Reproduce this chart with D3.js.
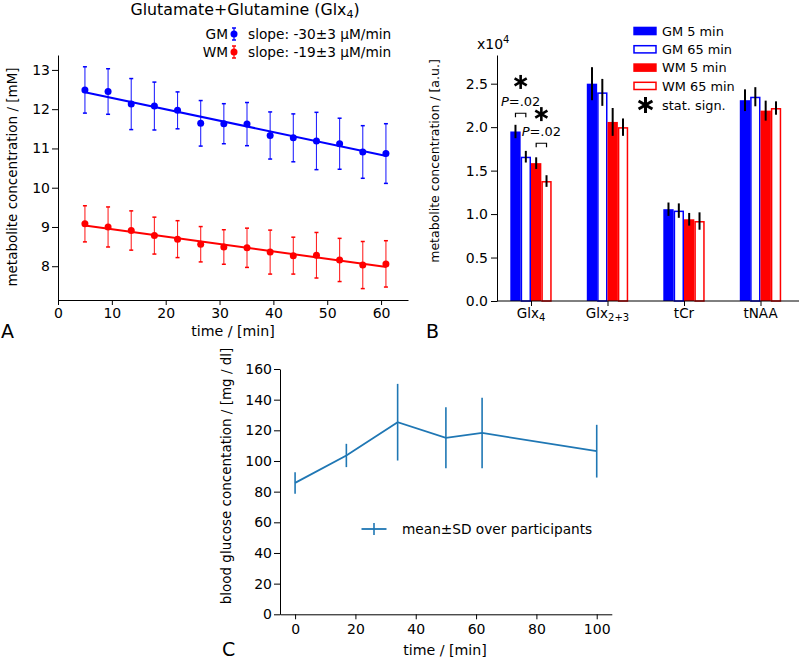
<!DOCTYPE html>
<html><head><meta charset="utf-8">
<script src="https://cdn.jsdelivr.net/npm/d3@7"></script>
<style>body{margin:0;background:#fff}svg{display:block}text{font-family:"DejaVu Sans",Verdana,sans-serif;font-weight:normal;fill:#000}</style>
</head><body>
<svg id="chart" width="800" height="659"></svg>
<script>
// ---------- Panel A data ----------
const timesA = [5.0, 9.3, 13.6, 17.9, 22.2, 26.5, 30.8, 35.1, 39.4, 43.7, 48.0, 52.3, 56.6, 60.9];
const gmMean = [12.49, 12.45, 12.13, 12.08, 11.97, 11.64, 11.63, 11.62, 11.33, 11.27, 11.19, 11.12, 10.91, 10.87];
const gmSD   = [0.59, 0.58, 0.65, 0.61, 0.47, 0.58, 0.51, 0.55, 0.60, 0.61, 0.73, 0.65, 0.67, 0.76];
const wmMean = [9.08, 9.00, 8.91, 8.78, 8.69, 8.56, 8.49, 8.47, 8.36, 8.27, 8.28, 8.16, 8.03, 8.06];
const wmSD   = [0.46, 0.51, 0.50, 0.47, 0.47, 0.45, 0.44, 0.50, 0.56, 0.47, 0.58, 0.55, 0.60, 0.59];
const fitTimes = [5, 61];
const gmFit = [12.43, 10.81];
const wmFit = [9.04, 7.98];
const legendA = ["GM", "WM"];
const slopeLabels = ["slope: -30\u00b13 \u03bcM/min", "slope: -19\u00b13 \u03bcM/min"];
const ticksAx = [0, 10, 20, 30, 40, 50, 60];
const ticksAy = [8, 9, 10, 11, 12, 13];

// ---------- Panel B data (x10^4 a.u.) ----------
const metabolites = ["Glx4", "Glx2+3", "tCr", "tNAA"];
const metBase = ["Glx", "Glx", "tCr", "tNAA"];
const metSub  = ["4", "2+3", "", ""];
const seriesB = ["GM 5 min", "GM 65 min", "WM 5 min", "WM 65 min"];
const gm5   = [1.95, 2.50, 1.056, 2.31];
const gm5E  = [0.077, 0.19, 0.077, 0.125];
const gm65  = [1.66, 2.40, 1.04, 2.35];
const gm65E = [0.067, 0.155, 0.083, 0.11];
const wm5   = [1.586, 2.06, 0.94, 2.19];
const wm5E  = [0.067, 0.16, 0.073, 0.115];
const wm65  = [1.38, 2.00, 0.92, 2.22];
const wm65E = [0.067, 0.10, 0.10, 0.077];
const ticksBy = [0, 0.5, 1.0, 1.5, 2.0, 2.5];
// significance annotations on Glx4: series pair, asterisk y, P text y, bracket y
const sigPairs = [[0, 1], [2, 3]];
const sigStarY = [2.52, 2.15];
const sigTextY = [2.30, 1.96];
const sigBracketY = [2.16, 1.815];
const sigText = ["P=.02", "P=.02"];

// ---------- Panel C data ----------
const glucoseTimes = [0, 17, 34, 50, 62, 100];
const glucoseMean  = [85.7, 103.6, 125.3, 115.1, 118.3, 106.4];
const glucoseSD    = [7.0, 7.6, 25.0, 19.9, 23.0, 17.2];
const ticksCx = [0, 20, 40, 60, 80, 100];
const ticksCy = [0, 20, 40, 60, 80, 100, 120, 140, 160];

const svg = d3.select("#chart");
const BLUE = "#0000ff", RED = "#ff0000", C1 = "#1f77b4";

function styleAxis(g, fs) {
  g.attr("font-size", null).attr("font-family", null);
  g.selectAll("path.domain").attr("stroke", "#000").attr("stroke-width", 1);
  g.selectAll(".tick line").attr("stroke", "#000");
  g.selectAll(".tick text").style("font-size", fs + "px").attr("fill", "#000");
}

// ================= Panel A =================
{
  const x = d3.scaleLinear().domain([0, 65]).range([58, 408]);
  const y = d3.scaleLinear().domain([7.14, 13.38]).range([300, 55]);
  const g = svg.append("g");
  g.append("g").attr("transform", "translate(0,300)")
    .call(d3.axisBottom(x).tickValues(ticksAx).tickFormat(d3.format("d")).tickSize(5).tickPadding(3).tickSizeOuter(0))
    .call(a => styleAxis(a, 14));
  g.append("g").attr("transform", "translate(58,0)")
    .call(d3.axisLeft(y).tickValues(ticksAy).tickFormat(d3.format("d")).tickSize(6).tickPadding(2).tickSizeOuter(0))
    .call(a => styleAxis(a, 14));

  const sets = [[gmMean, gmSD, gmFit, BLUE], [wmMean, wmSD, wmFit, RED]];
  sets.forEach(([m, sd, fit, col]) => {
    const pts = timesA.map((t, i) => ({t, m: m[i], s: sd[i]}));
    const eb = g.append("g").attr("stroke", col).attr("stroke-width", 1.1);
    eb.selectAll("line.v").data(pts).join("line")
      .attr("x1", d => x(d.t)).attr("x2", d => x(d.t))
      .attr("y1", d => y(d.m - d.s)).attr("y2", d => y(d.m + d.s)).attr("stroke-opacity", 0.85);
    eb.selectAll("line.ct").data(pts).join("line")
      .attr("x1", d => x(d.t) - 2).attr("x2", d => x(d.t) + 2)
      .attr("y1", d => y(d.m + d.s)).attr("y2", d => y(d.m + d.s)).attr("stroke-width", 1.5);
    eb.selectAll("line.cb").data(pts).join("line")
      .attr("x1", d => x(d.t) - 2).attr("x2", d => x(d.t) + 2)
      .attr("y1", d => y(d.m - d.s)).attr("y2", d => y(d.m - d.s)).attr("stroke-width", 1.5);
    g.append("path").datum(fitTimes.map((t, i) => [t, fit[i]]))
      .attr("fill", "none").attr("stroke", col).attr("stroke-width", 2)
      .attr("d", d3.line().x(d => x(d[0])).y(d => y(d[1])));
    g.append("g").selectAll("circle").data(pts).join("circle")
      .attr("cx", d => x(d.t)).attr("cy", d => y(d.m)).attr("r", 3.5).attr("fill", col);
  });

  // title
  const tt = g.append("text").attr("x", 245).attr("y", 14.5).attr("text-anchor", "middle").style("font-size", "15.8px");
  tt.append("tspan").text("Glutamate+Glutamine (Glx");
  tt.append("tspan").text("4").style("font-size", "11px").attr("dy", 3);
  tt.append("tspan").text(")").attr("dy", -3);

  // legend
  const cols = [BLUE, RED];
  legendA.forEach((lab, i) => {
    const cy = 34 + i * 18;
    g.append("text").attr("x", 228).attr("y", cy + 5).attr("text-anchor", "end").style("font-size", "13.7px").text(lab);
    const lg = g.append("g").attr("stroke", cols[i]);
    lg.append("line").attr("x1", 234).attr("x2", 234).attr("y1", cy - 6).attr("y2", cy + 6).attr("stroke-width", 1.2);
    lg.append("line").attr("x1", 232).attr("x2", 236).attr("y1", cy - 6).attr("y2", cy - 6).attr("stroke-width", 1.5);
    lg.append("line").attr("x1", 232).attr("x2", 236).attr("y1", cy + 6).attr("y2", cy + 6).attr("stroke-width", 1.5);
    g.append("circle").attr("cx", 234).attr("cy", cy).attr("r", 3.5).attr("fill", cols[i]);
    g.append("text").attr("x", 248).attr("y", cy + 5).style("font-size", "13.7px").text(slopeLabels[i]);
  });

  g.append("text").attr("transform", "translate(17,177) rotate(-90)").attr("text-anchor", "middle")
    .style("font-size", "13.5px").text("metabolite concentration / [mM]");
  g.append("text").attr("x", 233).attr("y", 336).attr("text-anchor", "middle").style("font-size", "14.2px").text("time / [min]");
  g.append("text").attr("x", 1).attr("y", 338).style("font-size", "19px").text("A");
}

// ================= Panel B =================
{
  const x = d3.scalePoint().domain(metabolites).range([531, 760.5]);
  const sub = d3.scaleBand().domain(seriesB).range([-20.7, 20.7]).padding(0);
  const y = d3.scaleLinear().domain([0, 2.83]).range([301, 55]);
  const g = svg.append("g");

  const vals = [gm5, gm65, wm5, wm65];
  const errs = [gm5E, gm65E, wm5E, wm65E];
  const cols = [BLUE, BLUE, RED, RED];
  const filled = [true, false, true, false];
  seriesB.forEach((s, si) => {
    const data = metabolites.map((m, i) => ({m, v: vals[si][i], e: errs[si][i]}));
    g.append("g").selectAll("rect").data(data).join("rect")
      .attr("x", d => x(d.m) + sub(s) + (filled[si] ? 0 : 0.75))
      .attr("width", sub.bandwidth() - (filled[si] ? 0 : 1.5))
      .attr("y", d => y(d.v) + (filled[si] ? 0 : 0.75))
      .attr("height", d => y(0) - y(d.v) - (filled[si] ? 0 : 0.75))
      .attr("fill", filled[si] ? cols[si] : "#fff")
      .attr("stroke", filled[si] ? "none" : cols[si]).attr("stroke-width", 1.5);
  });
  seriesB.forEach((s, si) => {
    const data = metabolites.map((m, i) => ({m, v: vals[si][i], e: errs[si][i]}));
    g.append("g").selectAll("line").data(data).join("line")
      .attr("x1", d => x(d.m) + sub(s) + sub.bandwidth() / 2).attr("x2", d => x(d.m) + sub(s) + sub.bandwidth() / 2)
      .attr("y1", d => y(d.v - d.e)).attr("y2", d => y(d.v + d.e))
      .attr("stroke", "#000").attr("stroke-width", 2);
  });

  // axes
  g.append("g").attr("transform", "translate(497,0)")
    .call(d3.axisLeft(y).tickValues(ticksBy).tickFormat(d3.format(".1f")).tickSize(6).tickPadding(3).tickSizeOuter(0))
    .call(a => styleAxis(a, 14));
  g.append("line").attr("x1", 497).attr("x2", 799).attr("y1", 301).attr("y2", 301).attr("stroke", "#000");
  const xa = g.append("g").attr("transform", "translate(0,301)")
    .call(d3.axisBottom(x).tickSize(5).tickPadding(4).tickFormat(""));
  xa.select("path.domain").remove();
  xa.selectAll(".tick line").attr("stroke", "#000");
  metabolites.forEach((m, i) => {
    const t = g.append("text").attr("x", x(m)).attr("y", 318).attr("text-anchor", "middle").style("font-size", "13.5px");
    t.append("tspan").text(metBase[i]);
    if (metSub[i]) t.append("tspan").text(metSub[i]).style("font-size", "10px").attr("dy", 3);
  });
  const xl = g.append("text").attr("x", 477).attr("y", 49).style("font-size", "14px");
  xl.append("tspan").text("x10");
  xl.append("tspan").text("4").style("font-size", "10px").attr("dy", -6);

  function star(cx, cy, r, sw) {
    const sg = g.append("g").attr("stroke", "#000").attr("stroke-width", sw).attr("stroke-linecap", "butt");
    [90, 30, -30].forEach(a => {
      const rad = a * Math.PI / 180;
      sg.append("line").attr("x1", cx - r * Math.cos(rad)).attr("y1", cy - r * Math.sin(rad))
        .attr("x2", cx + r * Math.cos(rad)).attr("y2", cy + r * Math.sin(rad));
    });
  }
  sigPairs.forEach((pr, k) => {
    const xa1 = x(metabolites[0]) + sub(seriesB[pr[0]]) + sub.bandwidth() / 2;
    const xa2 = x(metabolites[0]) + sub(seriesB[pr[1]]) + sub.bandwidth() / 2;
    const mid = (xa1 + xa2) / 2;
    star(mid, y(sigStarY[k]), 7, 2.6);
    const yb = y(sigBracketY[k]);
    g.append("path").attr("d", `M${xa1},${yb + 4}V${yb}H${xa2}V${yb + 4}`)
      .attr("fill", "none").attr("stroke", "#000").attr("stroke-width", 1.2);
    const t = g.append("text").attr("x", mid).attr("y", y(sigTextY[k]) + 5).attr("text-anchor", "middle").style("font-size", "13px");
    t.append("tspan").text("P").attr("font-style", "italic");
    t.append("tspan").text(sigText[k].slice(1));
  });

  // legend
  seriesB.forEach((s, i) => {
    const cy = 31 + i * 18.3;
    g.append("rect").attr("x", filled[i] ? 633.3 : 634).attr("y", cy - (filled[i] ? 4.3 : 3.6))
      .attr("width", filled[i] ? 23.4 : 22).attr("height", filled[i] ? 8.6 : 7.2)
      .attr("fill", filled[i] ? cols[i] : "#fff").attr("stroke", filled[i] ? "none" : cols[i]).attr("stroke-width", 1.5);
    g.append("text").attr("x", 662).attr("y", cy + 4.8).style("font-size", "12.9px").text(s);
  });
  star(645.5, 105, 8, 3);
  g.append("text").attr("x", 662).attr("y", 109.8).style("font-size", "12.9px").text("stat. sign.");

  g.append("text").attr("transform", "translate(439,161) rotate(-90)").attr("text-anchor", "middle")
    .style("font-size", "12.5px").text("metabolite concentration / [a.u.]");
  g.append("text").attr("x", 426).attr("y", 338).style("font-size", "19px").text("B");
}

// ================= Panel C =================
{
  const x = d3.scaleLinear().domain([-5, 105]).range([280, 611.8]);
  const y = d3.scaleLinear().domain([0, 160]).range([614.3, 369]);
  const g = svg.append("g");
  g.append("g").attr("transform", "translate(0,614.3)")
    .call(d3.axisBottom(x).tickValues(ticksCx).tickSize(5).tickPadding(5).tickSizeOuter(0))
    .call(a => styleAxis(a, 14));
  g.append("g").attr("transform", "translate(280,0)")
    .call(d3.axisLeft(y).tickValues(ticksCy).tickSize(6).tickPadding(2).tickSizeOuter(0))
    .call(a => styleAxis(a, 14));

  const pts = glucoseTimes.map((t, i) => ({t, m: glucoseMean[i], s: glucoseSD[i]}));
  g.append("path").datum(pts).attr("fill", "none").attr("stroke", C1).attr("stroke-width", 1.8)
    .attr("d", d3.line().x(d => x(d.t)).y(d => y(d.m)));
  g.append("g").selectAll("line").data(pts).join("line")
    .attr("x1", d => x(d.t)).attr("x2", d => x(d.t))
    .attr("y1", d => y(d.m - d.s)).attr("y2", d => y(d.m + d.s))
    .attr("stroke", C1).attr("stroke-width", 1.6);

  // legend
  g.append("line").attr("x1", 361.5).attr("x2", 386.5).attr("y1", 529).attr("y2", 529).attr("stroke", C1).attr("stroke-width", 1.8);
  g.append("line").attr("x1", 374).attr("x2", 374).attr("y1", 523).attr("y2", 535).attr("stroke", C1).attr("stroke-width", 1.6);
  g.append("text").attr("x", 402).attr("y", 534).style("font-size", "13.7px").text("mean\u00b1SD over participants");

  g.append("text").attr("transform", "translate(231,476) rotate(-90)").attr("text-anchor", "middle")
    .style("font-size", "13.5px").text("blood glucose concentation / [mg / dl]");
  g.append("text").attr("x", 445).attr("y", 655).attr("text-anchor", "middle").style("font-size", "14.2px").text("time / [min]");
  g.append("text").attr("x", 222).attr("y", 656).style("font-size", "19px").text("C");
}
</script>
</body></html>
